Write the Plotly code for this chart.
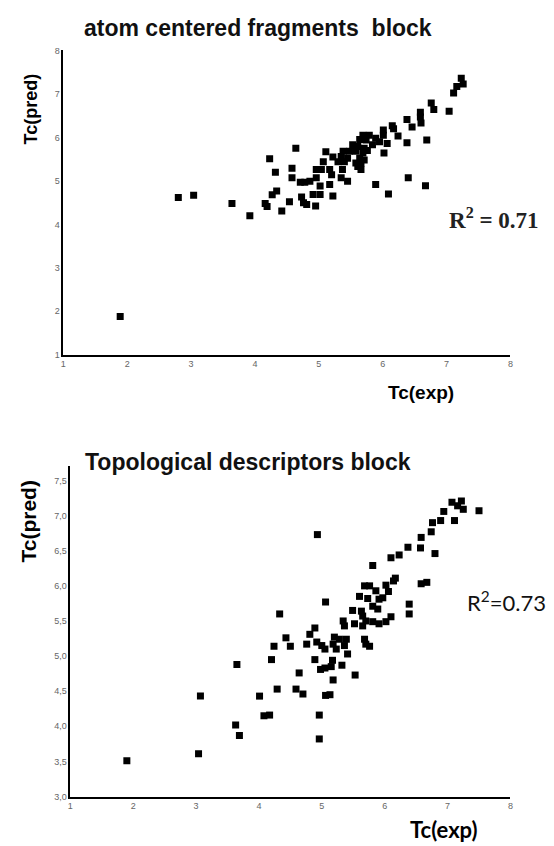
import plotly.graph_objects as go

# ---------------- data: atom centered fragments block ----------------
acf_exp = [7.23, 7.26, 7.16, 7.11, 6.76, 6.80, 7.04, 6.59, 6.59, 6.60, 6.38, 6.46,
           6.15, 6.17, 6.01, 6.01, 6.24, 6.69, 6.38,
           5.69, 5.79, 5.64, 5.74, 5.89, 5.95, 6.07, 5.53, 5.61, 5.71, 5.84, 5.48,
           5.58, 5.69, 5.76, 6.02, 5.38, 5.35, 5.45, 5.64, 5.71, 5.22, 5.11, 5.07,
           5.30, 5.40, 5.58, 5.66, 4.96, 5.04, 5.17, 5.37, 5.61, 5.66,
           4.64, 4.23, 4.32, 4.58,
           4.58, 4.71, 4.78, 4.96, 5.02, 4.86, 5.20, 5.17, 5.35, 5.45, 5.89, 6.40,
           6.67, 6.09, 4.34, 4.27, 4.91, 5.02, 5.22, 4.73, 4.76, 4.81, 4.95, 4.54,
           4.42, 4.16, 4.19, 3.92, 3.64, 2.80, 3.04, 1.89]
acf_pred = [7.36, 7.23, 7.17, 7.02, 6.79, 6.64, 6.60, 6.58, 6.47, 6.33, 6.41, 6.24,
            6.27, 6.20, 6.17, 6.05, 6.03, 5.94, 5.88,
            6.05, 6.05, 5.95, 5.94, 5.98, 5.90, 5.86, 5.83, 5.79, 5.75, 5.83, 5.68,
            5.68, 5.64, 5.70, 5.64, 5.68, 5.56, 5.52, 5.52, 5.48, 5.55, 5.67, 5.44,
            5.44, 5.44, 5.41, 5.41, 5.26, 5.26, 5.26, 5.26, 5.33, 5.26,
            5.75, 5.51, 5.20, 5.29,
            5.07, 4.97, 4.97, 5.07, 4.88, 4.99, 5.14, 4.92, 5.07, 4.99, 4.92, 5.07,
            4.89, 4.70, 4.77, 4.68, 4.69, 4.69, 4.65, 4.63, 4.50, 4.46, 4.42, 4.52,
            4.31, 4.48, 4.41, 4.20, 4.48, 4.62, 4.67, 1.88]

# ---------------- data: topological descriptors block ----------------
top_exp = [7.07, 7.22, 7.16, 7.25, 7.50, 6.94, 6.89, 7.11, 6.76, 6.74, 6.58, 6.57,
           6.37, 6.23, 6.10, 6.80, 5.81, 4.93, 6.17, 6.14, 6.02, 5.68, 5.76, 5.86,
           6.06, 6.58, 6.67, 5.60, 5.73, 5.91, 5.97, 5.06, 6.39, 5.81,
           4.33, 5.49, 5.63, 5.89, 6.39, 6.10, 5.65, 5.70, 5.81, 5.91, 6.02, 5.52,
           5.34, 5.36, 5.65, 4.89, 4.81, 4.76, 4.92, 5.00, 5.05, 5.20, 5.28, 5.39,
           5.18, 5.23, 5.36, 5.41, 5.68, 5.70, 5.76, 4.43, 4.24, 4.50, 4.20, 3.65,
           4.89, 5.17, 4.98, 5.05, 5.15, 5.32, 4.64, 5.18, 5.53, 3.07, 4.01, 4.29,
           4.59, 4.70, 5.06, 5.13, 4.08, 4.17, 4.96, 3.63, 3.69, 4.96, 3.04, 1.90]
top_pred = [7.19, 7.21, 7.14, 7.09, 7.07, 7.06, 6.93, 6.93, 6.90, 6.77, 6.69, 6.54,
            6.55, 6.44, 6.40, 6.46, 6.29, 6.73, 6.11, 6.07, 6.01, 6.00, 6.00, 5.93,
            5.92, 6.03, 6.05, 5.85, 5.82, 5.81, 5.83, 5.77, 5.74, 5.71,
            5.60, 5.65, 5.64, 5.67, 5.60, 5.56, 5.57, 5.50, 5.49, 5.46, 5.49, 5.46,
            5.50, 5.43, 5.43, 5.40, 5.31, 5.17, 5.20, 5.15, 5.10, 5.27, 5.24, 5.24,
            5.17, 5.10, 5.15, 5.03, 5.24, 5.17, 5.14, 5.26, 5.14, 5.14, 4.95, 4.88,
            4.95, 4.94, 4.81, 4.83, 4.85, 4.87, 4.76, 4.66, 4.73, 4.43, 4.43, 4.53,
            4.53, 4.46, 4.44, 4.45, 4.15, 4.16, 4.16, 4.02, 3.87, 3.82, 3.61, 3.51]

# tick labels
acf_x_ticks = [1, 2, 3, 4, 5, 6, 7, 8]
acf_y_ticks = [1, 2, 3, 4, 5, 6, 7, 8]
top_x_ticks = [1, 2, 3, 4, 5, 6, 7, 8]
top_y_ticks = [3.0, 3.5, 4.0, 4.5, 5.0, 5.5, 6.0, 6.5, 7.0, 7.5]
top_y_labels = ["3,0", "3,5", "4,0", "4,5", "5,0", "5,5", "6,0", "6,5", "7,0", "7,5"]

W, H = 554, 846
marker = dict(symbol="square", size=7, color="black", line=dict(width=0))

fig = go.Figure()
fig.add_trace(go.Scatter(x=acf_exp, y=acf_pred, mode="markers", marker=marker,
                         xaxis="x", yaxis="y", showlegend=False))
fig.add_trace(go.Scatter(x=top_exp, y=top_pred, mode="markers", marker=marker,
                         xaxis="x2", yaxis="y2", showlegend=False))

tickfont = dict(family="Liberation Sans, Arial", size=9, color="#666")
ax_common = dict(showgrid=False, zeroline=False, showline=True, linecolor="black",
                 linewidth=1.5, ticks="", tickfont=tickfont)

def px(v):
    return v / W

def py(v):
    return 1 - v / H

fig.update_layout(
    width=W, height=H,
    paper_bgcolor="white", plot_bgcolor="white",
    margin=dict(l=0, r=0, t=0, b=0),
    xaxis=dict(domain=[px(61), px(513)], range=[1, 8], anchor="y",
               tickvals=acf_x_ticks, ticktext=[str(t) for t in acf_x_ticks], **ax_common),
    yaxis=dict(domain=[py(354), py(46)], range=[1, 8], anchor="x",
               tickvals=acf_y_ticks, ticktext=[str(t) for t in acf_y_ticks], **ax_common),
    xaxis2=dict(domain=[px(68), px(513)], range=[1, 8], anchor="y2",
                tickvals=top_x_ticks, ticktext=[str(t) for t in top_x_ticks], **ax_common),
    yaxis2=dict(domain=[py(801), py(467)], range=[3, 7.7], anchor="x2",
                tickvals=top_y_ticks, ticktext=top_y_labels, **ax_common),
)

ann = []
def add_text(text, x, y, size, family, bold=True, angle=0, color="black"):
    t = f"<b>{text}</b>" if bold else text
    ann.append(dict(text=t, x=px(x), y=py(y), xref="paper", yref="paper",
                    xanchor="center", yanchor="middle", showarrow=False, textangle=angle,
                    font=dict(family=family, size=size, color=color)))

sans = "Liberation Sans, Arial"
lato = "Lato, Carlito, sans-serif"
add_text("atom centered fragments  block", 258, 23, 23, sans, color="#111")
add_text("Tc(pred)", 28, 105, 18, sans, angle=-90)
add_text("Tc(exp)", 423, 392, 19, sans)
add_text("R<sup>2</sup> = 0.71", 496, 216, 23, "Liberation Serif, Times New Roman", color="#222")

add_text("Topological descriptors block", 248, 462, 23, sans, color="#111")
add_text("Tc(pred)", 26, 523, 21, sans, angle=-90)
add_text("Tc(exp)", 446, 834, 22, lato)
add_text("R<sup>2</sup>=0.73", 509, 604, 22, lato, bold=False, color="#111")

fig.update_layout(annotations=ann)

fig.write_html("out.html", config={"displayModeBar": False},
               post_script="document.body.style.margin='0';document.body.style.padding='0';")
